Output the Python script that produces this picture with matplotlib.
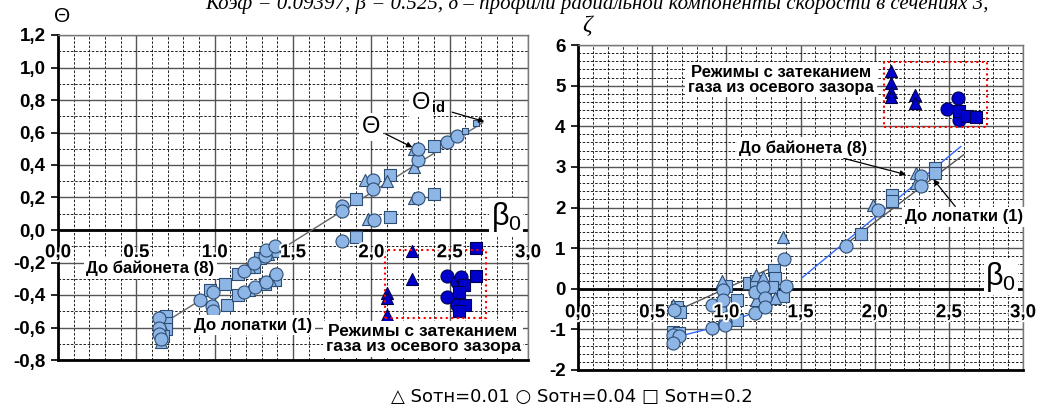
import matplotlib.pyplot as plt
import matplotlib.patheffects as pe
from matplotlib.patches import Rectangle
from matplotlib.ticker import MultipleLocator, FuncFormatter

plt.rcParams['font.family'] = ['Liberation Sans', 'DejaVu Sans']

# ---- left chart: Theta vs beta0 ----
th_circ_x = [0.645, 0.645, 0.645, 0.655, 0.905, 0.99, 1.19, 1.25, 1.32, 1.33, 1.385,
             0.98, 0.99, 1.19, 1.26, 1.33, 1.39, 1.81, 1.81, 1.81, 2.01, 2.01, 2.02,
             2.3, 2.3, 2.3, 2.48, 2.55]
th_circ_y = [-0.54, -0.6, -0.64, -0.67, -0.43, -0.38, -0.25, -0.2, -0.16, -0.12, -0.1,
             -0.47, -0.5, -0.38, -0.35, -0.32, -0.27, 0.15, 0.12, -0.07, 0.31, 0.25, 0.06,
             0.2, 0.43, 0.5, 0.54, 0.58]
th_sq_x = [0.69, 0.69, 0.69, 0.67, 0.97, 1.066, 1.15, 1.25, 1.29, 1.38,
           1.08, 1.15, 1.32, 1.385, 1.9, 1.9, 2.12, 2.12, 2.4, 2.4]
th_sq_y = [-0.53, -0.57, -0.61, -0.65, -0.37, -0.33, -0.27, -0.23, -0.17, -0.13,
           -0.46, -0.4, -0.33, -0.31, 0.19, -0.04, 0.08, 0.34, 0.22, 0.52]
th_tri_x = [0.66, 0.66, 1.22, 1.34, 1.22, 1.35, 1.96, 1.98, 2.1, 2.27, 2.27, 2.27]
th_tri_y = [-0.58, -0.69, -0.23, -0.15, -0.37, -0.31, 0.31, 0.07, 0.3, 0.2, 0.39, 0.5]
th_id_x = [2.6, 2.67]
th_id_y = [0.61, 0.66]
th_line_x = [0.68, 2.71]
th_line_y = [-0.57, 0.66]

th_dtri_x = [2.1, 2.1, 2.1, 2.26, 2.26]
th_dtri_y = [-0.39, -0.42, -0.52, -0.13, -0.3]
th_dcirc_x = [2.48, 2.48, 2.55, 2.57, 2.55]
th_dcirc_y = [-0.28, -0.41, -0.32, -0.29, -0.46]
th_dsq_x = [2.67, 2.67, 2.59, 2.56, 2.6, 2.56]
th_dsq_y = [-0.11, -0.28, -0.34, -0.38, -0.46, -0.5]

# ---- right chart: zeta vs beta0 ----
z_circ_x = [0.65, 0.64, 0.68, 0.64, 0.9, 0.9, 0.98, 0.98, 0.99, 1.19, 1.19, 1.25, 1.26,
            1.26, 1.39, 1.4, 1.81, 2.02, 2.31, 2.31]
z_circ_y = [-0.52, -1.13, -1.17, -1.33, -0.39, -0.96, -0.02, -0.27, -0.89, -0.07, -0.6,
            0.05, -0.23, -0.44, 0.73, 0.07, 1.06, 1.95, 2.77, 2.52]
z_sq_x = [0.67, 0.69, 0.64, 0.68, 1.0, 1.07, 1.07, 1.15, 1.2, 1.32, 1.33, 1.31, 1.38,
          1.91, 2.12, 2.12, 2.41, 2.41]
z_sq_y = [-0.45, -0.56, -1.06, -1.08, 0.08, -0.27, -0.77, 0.15, 0.2, 0.47, 0.27, 0.05,
          -0.17, 1.35, 2.32, 2.15, 2.97, 2.85]
z_tri_x = [0.64, 0.97, 0.98, 1.0, 0.98, 1.2, 1.2, 1.25, 1.33, 1.38, 1.99, 2.28, 2.28]
z_tri_y = [-0.39, 0.2, -0.47, -0.66, -0.71, 0.35, -0.27, 0.3, -0.23, 1.28, 2.07, 2.85, 2.6]

z_dtri_x = [2.11, 2.11, 2.11, 2.11, 2.27, 2.27]
z_dtri_y = [5.35, 5.07, 4.85, 4.73, 4.78, 4.58]
z_dcirc_x = [2.56, 2.49, 2.57]
z_dcirc_y = [4.7, 4.43, 4.16]
z_dsq_x = [2.57, 2.62, 2.68]
z_dsq_y = [4.38, 4.26, 4.24]

z_blue1_x = [0.67, 0.91, 1.18, 1.38]
z_blue1_y = [-1.18, -0.96, -0.6, -0.02]
z_blue2_x = [1.51, 2.58]
z_blue2_y = [0.27, 3.5]
z_gray1_x = [0.69, 1.38]
z_gray1_y = [-0.5, 0.64]
z_gray2_x = [1.8, 2.6]
z_gray2_y = [1.08, 3.3]

x_ticks = [0.0, 0.5, 1.0, 1.5, 2.0, 2.5, 3.0]

light = '#8DB6E6'
light_e = '#2E4D73'
dark = '#0000CC'
dark_e = '#000050'
wbox = dict(facecolor='white', edgecolor='none', pad=2)
halo = [pe.withStroke(linewidth=3, foreground='white')]

fig = plt.figure(figsize=(10.38, 4.07), dpi=100)
ax1 = fig.add_axes([58 / 1038, 1 - 360 / 407, 470 / 1038, 325 / 407])
ax2 = fig.add_axes([578 / 1038, 1 - 370 / 407, 445 / 1038, 325 / 407])


def style(ax, ymaj, ymin):
    ax.xaxis.set_major_locator(MultipleLocator(0.5))
    ax.xaxis.set_minor_locator(MultipleLocator(0.1))
    ax.yaxis.set_major_locator(MultipleLocator(ymaj))
    ax.yaxis.set_minor_locator(MultipleLocator(ymin))
    ax.grid(which='major', color='#555555', lw=1.0, ls='-', zorder=0)
    ax.grid(which='minor', color='black', lw=0.6, ls=(0, (3, 2)), zorder=0)
    ax.set_axisbelow(True)
    ax.tick_params(which='minor', length=0)
    ax.tick_params(axis='x', which='major', length=0, labelbottom=False)
    ax.tick_params(axis='y', which='major', length=5, width=1.2, labelsize=13.5, pad=4)
    for s in ['left', 'bottom']:
        ax.spines[s].set_linewidth(2)
        ax.spines[s].set_color('black')
    for s in ['top', 'right']:
        ax.spines[s].set_linewidth(1)
        ax.spines[s].set_color('#777777')
    ax.axhline(0, color='black', lw=2, zorder=2)


def scat(ax, x, y, m, fc, ec, s):
    ax.scatter(x, y, marker=m, s=s, facecolor=fc, edgecolor=ec, linewidth=0.8, zorder=4)


# left chart
ax1.set_xlim(0, 3.0)
ax1.set_ylim(-0.8, 1.2)
style(ax1, 0.2, 0.1)
ax1.yaxis.set_major_formatter(FuncFormatter(lambda v, p: f'{v:.1f}'.replace('.', ',')))
for lab in ax1.get_yticklabels():
    lab.set_fontweight('bold')
ax1.plot(th_line_x, th_line_y, color='#666666', lw=1, zorder=3)
scat(ax1, th_sq_x, th_sq_y, 's', light, light_e, 72)
scat(ax1, th_tri_x, th_tri_y, '^', light, light_e, 75)
scat(ax1, th_circ_x, th_circ_y, 'o', light, light_e, 88)
scat(ax1, th_id_x, th_id_y, 's', light, light_e, 22)
scat(ax1, th_dtri_x, th_dtri_y, '^', dark, dark_e, 75)
scat(ax1, th_dcirc_x, th_dcirc_y, 'o', dark, dark_e, 88)
scat(ax1, th_dsq_x, th_dsq_y, 's', dark, dark_e, 72)
ax1.add_patch(Rectangle((2.09, -0.54), 0.64, 0.42, fill=False, edgecolor='red',
                        lw=1.5, ls=':', zorder=5))
for v in x_ticks:
    ax1.text(v, -0.14, f'{v:.1f}'.replace('.', ','), ha='center', va='center',
             fontsize=13.5, fontweight='bold', zorder=6, path_effects=halo)
ax1.text(0.59, -0.234, 'До байонета (8)', ha='center', va='center', fontsize=12,
         fontweight='bold', bbox=wbox, zorder=6)
ax1.text(1.245, -0.585, 'До лопатки (1)', ha='center', va='center', fontsize=12,
         fontweight='bold', bbox=wbox, zorder=6)
ax1.text(2.33, -0.67, 'Режимы с затеканием\nгаза из осевого зазора', ha='center',
         va='center', fontsize=12.5, fontweight='bold', bbox=wbox, zorder=6,
         linespacing=1.0)
ax1.text(2.86, 0.08, r'$\mathregular{β_0}$', ha='center', va='center', fontsize=22,
         bbox=dict(facecolor='white', edgecolor='none', pad=1), zorder=6)
ax1.annotate('Θ', xy=(2.27, 0.505), xytext=(2.0, 0.635), ha='center', va='center',
             fontsize=17, bbox=wbox, zorder=6,
             arrowprops=dict(arrowstyle='-|>', color='black', lw=0.9,
                             mutation_scale=8, shrinkA=2, shrinkB=1))
ax1.annotate('Θ', xy=(2.73, 0.665), xytext=(2.32, 0.78), ha='center', va='center',
             fontsize=17, bbox=wbox, zorder=6,
             arrowprops=dict(arrowstyle='-|>', color='black', lw=0.9,
                             mutation_scale=8, shrinkA=14, shrinkB=1))
ax1.text(2.39, 0.75, 'id', ha='left', va='center', fontsize=10.5, fontweight='bold',
         zorder=7)
fig.text(62 / 1038, 1 - 16 / 407, 'Θ', ha='center', va='center', fontsize=15)

# right chart
ax2.set_xlim(0, 3.0)
ax2.set_ylim(-2, 6)
style(ax2, 1, 0.2)
ax2.yaxis.set_major_formatter(FuncFormatter(lambda v, p: f'{v:.0f}'))
for lab in ax2.get_yticklabels():
    lab.set_fontweight('bold')
ax2.plot(z_gray1_x, z_gray1_y, color='#555555', lw=1, zorder=3)
ax2.plot(z_gray2_x, z_gray2_y, color='#555555', lw=1, zorder=3)
ax2.plot(z_blue1_x, z_blue1_y, color='#3366FF', lw=1, zorder=3)
ax2.plot(z_blue2_x, z_blue2_y, color='#3366FF', lw=1, zorder=3)
scat(ax2, z_sq_x, z_sq_y, 's', light, light_e, 72)
scat(ax2, z_tri_x, z_tri_y, '^', light, light_e, 75)
scat(ax2, z_circ_x, z_circ_y, 'o', light, light_e, 88)
scat(ax2, z_dtri_x, z_dtri_y, '^', dark, dark_e, 75)
scat(ax2, z_dcirc_x, z_dcirc_y, 'o', dark, dark_e, 88)
scat(ax2, z_dsq_x, z_dsq_y, 's', dark, dark_e, 72)
ax2.add_patch(Rectangle((2.06, 3.99), 0.7, 1.6, fill=False, edgecolor='red',
                        lw=1.5, ls=':', zorder=5))
for v in x_ticks:
    ax2.text(v, -0.59, f'{v:.1f}'.replace('.', ','), ha='center', va='center',
             fontsize=13.5, fontweight='bold', zorder=6, path_effects=halo)
ax2.text(1.37, 5.15, 'Режимы с затеканием\nгаза из осевого зазора', ha='center',
         va='center', fontsize=12, fontweight='bold', bbox=wbox, zorder=6,
         linespacing=1.0)
ax2.annotate('До байонета (8)', xy=(2.22, 2.8), xytext=(1.52, 3.47), ha='center',
             va='center', fontsize=12, fontweight='bold', bbox=wbox, zorder=6,
             arrowprops=dict(arrowstyle='-|>', color='black', lw=0.9,
                             mutation_scale=8, shrinkA=0, shrinkB=1))
ax2.annotate('До лопатки (1)', xy=(2.39, 2.72), xytext=(2.6, 1.77), ha='center',
             va='center', fontsize=12, fontweight='bold', bbox=wbox, zorder=6,
             arrowprops=dict(arrowstyle='-|>', color='black', lw=0.9,
                             mutation_scale=8, shrinkA=0, shrinkB=1))
ax2.text(2.85, 0.3, r'$\mathregular{β_0}$', ha='center', va='center', fontsize=22,
         bbox=dict(facecolor='white', edgecolor='none', pad=1), zorder=6)
fig.text(587 / 1038, 1 - 26 / 407, 'ζ', ha='center', va='center', fontsize=17,
         family='Liberation Serif', style='italic')

# cropped caption line at the very top
fig.text(205 / 1038, 1 - 9 / 407,
         'Коэф = 0.09397, β = 0.525, δ – профили радиальной компоненты скорости в сечениях 3,',
         ha='left', va='baseline', fontsize=15, family='Liberation Serif', style='italic')

# marker legend
fig.text(572 / 1038, 1 - 397 / 407, '△ Sотн=0.01 ○ Sотн=0.04 □ Sотн=0.2',
         ha='center', va='center', fontsize=13, family=['DejaVu Sans'])

fig.savefig('out.png', dpi=100)
